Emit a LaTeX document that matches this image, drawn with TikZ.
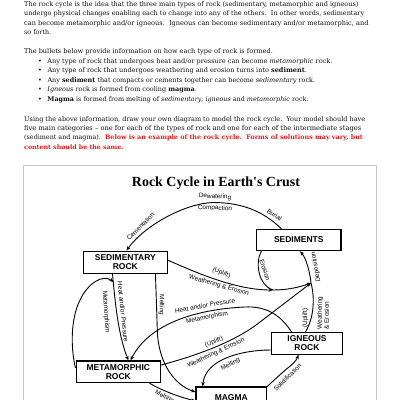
\documentclass[tikz,border=0pt]{standalone}
\usepackage{fontspec}
\setmainfont{DejaVu Serif}
\newfontfamily\labfont{Liberation Sans}
\newfontfamily\ttlfont{Liberation Serif}
\usetikzlibrary{arrows.meta}
\definecolor{bodytxt}{HTML}{111111}
\definecolor{framegray}{HTML}{C8C8C8}
\definecolor{redtxt}{HTML}{EE1C1C}
\newcommand\fitline[2]{\resizebox{#1pt}{!}{#2}}
\begin{document}
\begin{tikzpicture}[x=1pt,y=-1pt,
  ptxt/.style={anchor=base west, inner sep=0pt, text=bodytxt},
  bul/.style={anchor=base, inner sep=0pt, text=bodytxt, font=\fontsize{6.5}{7}\selectfont},
  rockbox/.style={draw, line width=1.1pt, inner sep=0pt, align=center,
    font=\labfont\bfseries\fontsize{8.5}{9.3}\selectfont},
  lab/.style={inner sep=0pt, font=\labfont\fontsize{6.4}{7}\selectfont},
  conn/.style={line width=0.9pt},
  arr/.style={conn, -{Stealth[length=4.5pt,width=3.6pt]}},
]
\useasboundingbox (0,0) rectangle (400,400);
\clip (0,0) rectangle (400,400);
\fill[white] (0,0) rectangle (400,400);

% ---------- page text ----------
\node[ptxt] (p1) at (24,6.3) {\fitline{334.3}{The rock cycle is the idea that the three main types of rock (sedimentary, metamorphic and igneous)}};
\node[ptxt] (p2) at (24,15.7) {\fitline{340}{undergo physical changes enabling each to change into any of the others.\ \ In other words, sedimentary}};
\node[ptxt] (p3) at (24,25.2) {\fitline{344.3}{can become metamorphic and/or igneous.\ \ Igneous can become sedimentary and/or metamorphic, and}};
\node[ptxt] (p4) at (24,34.5) {\fitline{27}{so forth.}};

\node[ptxt] (q0) at (24,53.3) {\fitline{248.7}{The bullets below provide information on how each type of rock is formed.}};
\node[bul] (b1) at (40,63) {•};
\node[ptxt] (q1) at (47.3,63) {\fitline{285}{Any type of rock that undergoes heat and/or pressure can become \textit{metamorphic} rock.}};
\node[bul] (b2) at (40,72.5) {•};
\node[ptxt] (q2) at (47.3,72.5) {\fitline{259.4}{Any type of rock that undergoes weathering and erosion turns into \textbf{sediment}.}};
\node[bul] (b3) at (40,82) {•};
\node[ptxt] (q3) at (47.3,82) {\fitline{267.7}{Any \textbf{sediment} that compacts or cements together can become \textit{sedimentary} rock.}};
\node[bul] (b4) at (40,91.5) {•};
\node[ptxt] (q4) at (47.3,91.5) {\fitline{149.4}{\textit{Igneous} rock is formed from cooling \textbf{magma}.}};
\node[bul] (b5) at (40,101.3) {•};
\node[ptxt] (q5) at (47.3,101.3) {\fitline{261}{\textbf{Magma} is formed from melting of \textit{sedimentary}, \textit{igneous} and \textit{metamorphic} rock.}};

\node[ptxt] (u1) at (24,121.5) {\fitline{341}{Using the above information, draw your own diagram to model the rock cycle.\ \ Your model should have}};
\node[ptxt] (u2) at (24,130.7) {\fitline{337}{five main categories – one for each of the types of rock and one for each of the intermediate stages}};
\node[ptxt] (u3) at (24,139.8) {\fitline{338.7}{(sediment and magma).\ \ {\color{redtxt}\bfseries Below is an example of the rock cycle.\ \ Forms of solutions may vary, but}}};
\node[ptxt] (u4) at (24,149) {\fitline{99.3}{\color{redtxt}\bfseries content should be the same.}};

% ---------- frame ----------
\draw[framegray, line width=0.8pt] (23.5,165.7) rectangle (376.5,430);

% ---------- title ----------
\node[inner sep=0pt] (title) at (216,183.5) {\fitline{168}{\ttlfont\bfseries Rock Cycle in Earth's Crust}};

% ---------- boxes ----------
\node[rockbox, minimum width=84.3pt, minimum height=21.4pt] (sed) at (298.8,240) {SEDIMENTS};
\node[rockbox, minimum width=84pt, minimum height=22.3pt] (sedr) at (125.3,262.2) {SEDIMENTARY\\ROCK};
\node[rockbox, minimum width=70.6pt, minimum height=21.7pt] (ign) at (307,343.2) {IGNEOUS\\ROCK};
\node[rockbox, minimum width=84.5pt, minimum height=21.7pt] (met) at (118.3,371.8) {METAMORPHIC\\ROCK};
\node[rockbox, minimum width=70.7pt, minimum height=22pt] (mag) at (231.3,398) {MAGMA};

\coordinate (j1) at (273,290);
\coordinate (j2) at (311,283);

% ---------- connectors ----------
% sediments -> sedimentary rock
\draw[arr] ([xshift=25.3pt]sed.north west) .. controls (262,210) and (240,202.5) .. (213,202.5)
  .. controls (185,203.5) and (145,225) .. ([xshift=43.7pt]sedr.north west);
% sedimentary rock -> weathering & erosion
\draw[arr] ([yshift=2pt]sedr.east) .. controls (195,272) and (235,290) .. (j1);
% erosion
\draw[conn] ([xshift=5.3pt]sed.south west) .. controls (255,262) and (258,285) .. (j1);
\draw[arr] (j1) .. controls (288,290) and (300,287) .. (j2);
% metamorphic -> weathering & erosion
\draw[arr] ([yshift=6.8pt]met.east) .. controls (195,356) and (235,342) .. (260,322) -- (j2);
% igneous -> sediments (deposition)
\draw[arr] ([xshift=34.3pt]ign.north west) .. controls (314,318) and (315,298) .. (j2)
  .. controls (310,272) and (306,258) .. ([xshift=1.2pt]sed.south);
% sedimentary -> metamorphic (heat / pressure)
\draw[arr] ([xshift=29.7pt]sedr.south west) .. controls (115,300) and (118,335) .. ([xshift=53pt]met.north west);
% metamorphic loop
\coordinate (j3) at (113.6,282);
\draw[arr] ([yshift=3.8pt]met.west) .. controls (71,350) and (70,320) .. (80,300)
  .. controls (88,283) and (103,274) .. (j3);
% igneous -> metamorphic
\draw[arr] ([xshift=20.3pt]ign.north west) .. controls (280,314) and (265,306) .. (245,307)
  .. controls (200,309) and (150,322) .. ([xshift=55pt]met.north west);
% sedimentary -> magma (melting)
\draw[arr] ([xshift=72.7pt]sedr.south west) -- (157.5,335) .. controls (160,365) and (175,385) .. ([yshift=6pt]mag.west);
% metamorphic -> magma (melting)
\draw[arr] ([xshift=74pt]met.south west) .. controls (165,392) and (180,397) .. ([yshift=-3pt]mag.west);
% igneous -> magma (melting)
\draw[arr] ([yshift=-6.8pt]ign.west) .. controls (240,350) and (205,360) .. ([xshift=7.3pt]mag.north west);
% magma -> igneous (solidification)
\draw[arr] (mag.north east) -- (283,372) .. controls (290,366) and (296,362) .. ([xshift=27.3pt]ign.south west);

% ---------- labels ----------
\node[lab, rotate=-3] (l1) at (215,196.8) {Dewatering};
\node[lab, rotate=-3] (l2) at (215,208.3) {Compaction};
\node[lab, rotate=45] (l3) at (140.5,226.5) {Cementation};
\node[lab, rotate=-35] (l4) at (274.5,215) {Burial};
\node[lab, rotate=-22] (l5) at (221.5,273) {(Uplift)};
\node[lab, rotate=-16] (l6) at (219,285.5) {Weathering \& Erosion};
\node[lab, rotate=-72] (l7) at (265,270) {Erosion};
\node[lab, rotate=100] (l8) at (316,267) {Deposition};
\node[lab, rotate=90] (l9) at (305.5,318) {(Uplift)};
\node[lab, rotate=90, align=left] (l10) at (323,313) {Weathering\\\& Erosion};
\node[lab, rotate=-84] (l11) at (123,312) {Heat and/or Pressure};
\node[lab, rotate=-86] (l12) at (106,312) {Metamorphism};
\node[lab, rotate=-90] (l13) at (161.5,305) {Melting};
\node[lab, rotate=10] (l14) at (205,305.5) {Heat and/or Pressure};
\node[lab, rotate=11] (l15) at (207,317.5) {Metamorphism};
\node[lab, rotate=22] (l16) at (214,342) {(Uplift)};
\node[lab, rotate=25] (l17) at (216,353) {Weathering \& Erosion};
\node[lab, rotate=28] (l18) at (230.5,364.5) {Melting};
\node[lab, rotate=-28] (l19) at (164.5,397) {Melting};
\node[lab, rotate=45] (l20) at (287.5,377.5) {Solidification};
\end{tikzpicture}
\end{document}
